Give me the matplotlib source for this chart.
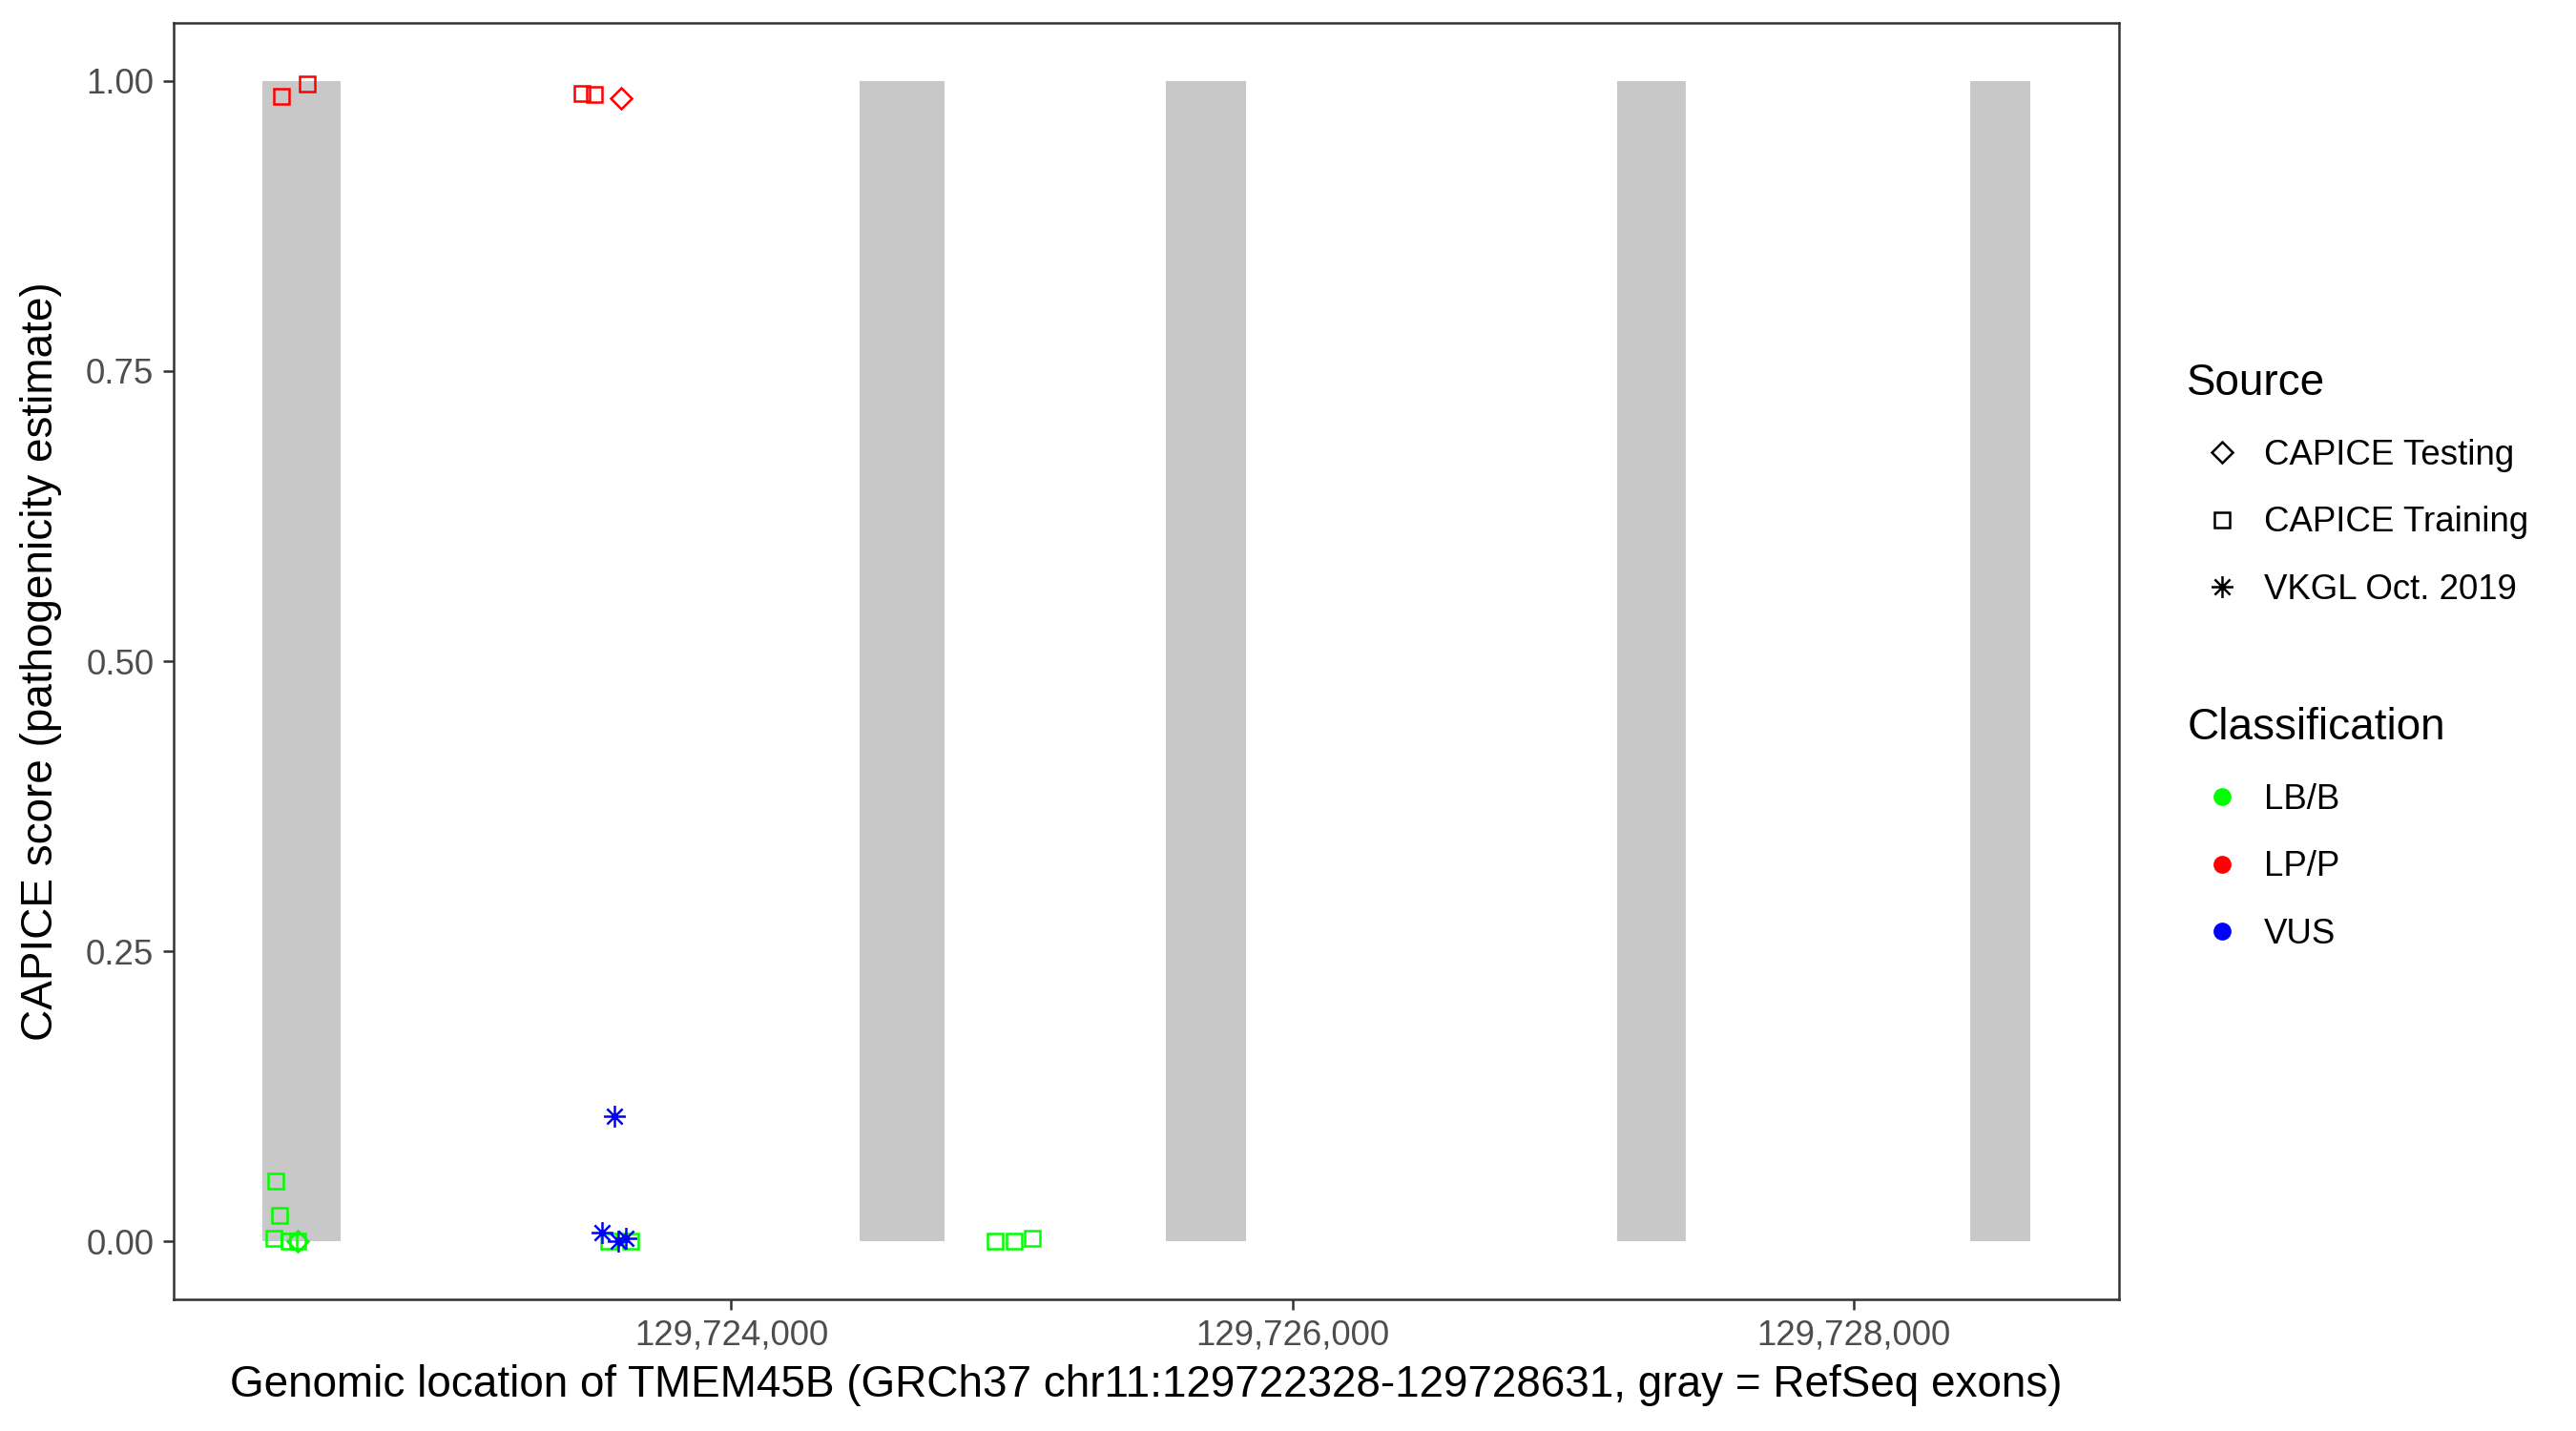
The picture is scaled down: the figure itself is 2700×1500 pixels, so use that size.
import matplotlib
matplotlib.use("Agg")
import matplotlib.pyplot as plt
from matplotlib.path import Path
from matplotlib.lines import Line2D
from matplotlib.ticker import FuncFormatter
import numpy as np

plt.rcParams['font.family'] = ['Liberation Sans', 'DejaVu Sans']

# Gene region and exons
gene_start = 129722328
gene_end = 129728631
exon_starts = [129722328, 129724456, 129725550, 129727158, 129728415]
exon_ends = [129722607, 129724760, 129725836, 129727403, 129728631]

# Variants
pos = [129722376, 129722389, 129722369, 129722423, 129722454, 129723562, 129723640,
       129724941, 129725009, 129725074,
       129722454,
       129722396, 129722488, 129723467, 129723511,
       129723609,
       129723585, 129723538, 129723596, 129723626]
score = [0.052, 0.022, 0.0025, 0.0, 0.0, 0.0, 0.0,
         0.0, 0.0, 0.003,
         0.0,
         0.987, 0.997, 0.989, 0.9885,
         0.985,
         0.108, 0.0074, 0.0, 0.003]
source = (["CAPICE Training"] * 10 + ["CAPICE Testing"] + ["CAPICE Training"] * 4
          + ["CAPICE Testing"] + ["VKGL Oct. 2019"] * 4)
classif = (["LB/B"] * 11 + ["LP/P"] * 5 + ["VUS"] * 4)

source_levels = ["CAPICE Testing", "CAPICE Training", "VKGL Oct. 2019"]
class_levels = ["LB/B", "LP/P", "VUS"]
class_colors = {"LB/B": "#00FF00", "LP/P": "#FF0000", "VUS": "#0000FF"}

# asterisk marker: 8 equal arms
verts, codes = [], []
for ang in [0, 45, 90, 135]:
    a = np.deg2rad(ang)
    c, s = 0.5 * np.cos(a), 0.5 * np.sin(a)
    verts += [(-c, -s), (c, s)]
    codes += [Path.MOVETO, Path.LINETO]
asterisk = Path(verts, codes)

markers = {"CAPICE Testing": "D", "CAPICE Training": "s", "VKGL Oct. 2019": asterisk}
msizes = {"CAPICE Testing": 3.7, "CAPICE Training": 3.7, "VKGL Oct. 2019": 5.5}

fig = plt.figure(figsize=(9, 5), dpi=300)
ax = fig.add_axes([182 / 2700, 1 - 1362 / 1500, (2221 - 182) / 2700, (1362 - 24) / 1500])

ax.bar(exon_starts, 1.0, width=np.array(exon_ends) - np.array(exon_starts),
       bottom=0, align='edge', color='#C8C8C8', linewidth=0, zorder=1)

pos = np.array(pos)
score = np.array(score)
source = np.array(source)
classif = np.array(classif)
order = ["CAPICE Training", "CAPICE Testing", "VKGL Oct. 2019"]
for z, src in enumerate(order):
    for cl in class_levels:
        m = (source == src) & (classif == cl)
        if m.sum() == 0:
            continue
        ax.plot(pos[m], score[m], linestyle='none', marker=markers[src],
                markersize=msizes[src], markerfacecolor='none',
                markeredgecolor=class_colors[cl], markeredgewidth=0.6,
                zorder=3 + z)

rng = gene_end - gene_start
ax.set_xlim(gene_start - 0.05 * rng, gene_end + 0.05 * rng)
ax.set_ylim(-0.05, 1.05)
ax.set_xticks([129724000, 129726000, 129728000])
ax.xaxis.set_major_formatter(FuncFormatter(lambda v, p: f"{int(round(v)):,}"))
ax.set_yticks([0, 0.25, 0.5, 0.75, 1.0])
ax.yaxis.set_major_formatter(FuncFormatter(lambda v, p: f"{v:.2f}"))
ax.tick_params(axis='both', length=2.75, width=0.6, color='#333333',
               labelsize=8.8, labelcolor='#4D4D4D', pad=2.2)
for sp in ax.spines.values():
    sp.set_linewidth(0.6)
    sp.set_color('#333333')

ax.set_xlabel("Genomic location of TMEM45B (GRCh37 chr11:129722328-129728631, gray = RefSeq exons)",
              fontsize=11, color='black', labelpad=3)
ax.set_ylabel("CAPICE score (pathogenicity estimate)", fontsize=11, color='black', labelpad=6)

# Legends
src_handles = [Line2D([], [], linestyle='none', marker=markers[s], markersize=msizes[s],
                      markerfacecolor='none', markeredgecolor='black', markeredgewidth=0.6)
               for s in source_levels]
cl_handles = [Line2D([], [], linestyle='none', marker='o', markersize=4.5,
                     markerfacecolor=class_colors[c], markeredgecolor=class_colors[c],
                     markeredgewidth=0)
              for c in class_levels]

leg_kw = dict(loc='upper left', frameon=False, fontsize=8.8, title_fontsize=11,
              handlelength=2.0, handletextpad=0.2, labelspacing=0.97,
              alignment='left', borderaxespad=0, borderpad=0.2)
leg1 = fig.legend(src_handles, source_levels, title="Source",
                  bbox_to_anchor=(2285 / 2700, 1 - 373 / 1500), **leg_kw)
leg2 = fig.legend(cl_handles, class_levels, title="Classification",
                  bbox_to_anchor=(2285 / 2700, 1 - 734 / 1500), **leg_kw)

fig.savefig("out.png", dpi=300)
